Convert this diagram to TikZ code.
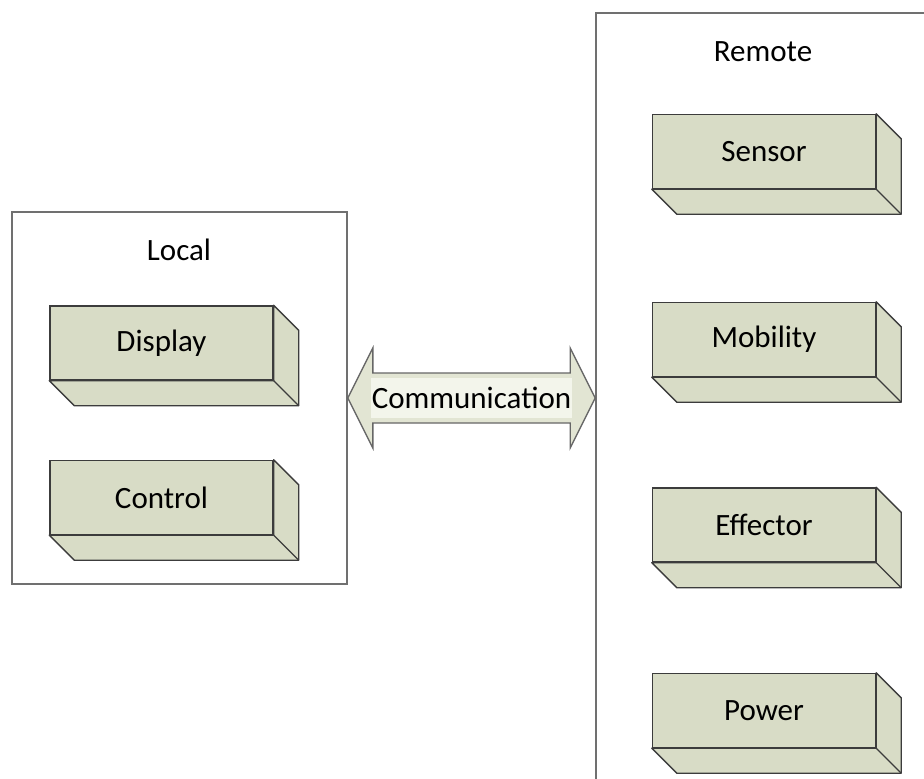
\documentclass[tikz,border=0pt]{standalone}
\usepackage{fontspec}
\setmainfont{Carlito}
\usetikzlibrary{calc}
\definecolor{boxfill}{RGB}{216,220,198}
\definecolor{boxline}{RGB}{60,60,60}
\definecolor{arrowfill}{RGB}{226,229,211}
\definecolor{arrowline}{RGB}{102,102,102}
\definecolor{labelbg}{RGB}{243,245,235}
\definecolor{frameline}{RGB}{112,112,112}
\tikzset{
  container/.style={draw=frameline, line width=1.6pt, fill=white, inner sep=0pt},
  block/.style={draw=boxline, line width=1.4pt, fill=boxfill, minimum width=223pt,
    minimum height=74pt, inner sep=0pt, font=\fontsize{31}{37}\selectfont},
  face/.style={draw=boxline, line width=1.4pt, fill=boxfill, line join=round},
  title/.style={font=\fontsize{31}{37}\selectfont, inner sep=0pt},
  bigarrow/.style={draw=arrowline, line width=1.4pt, fill=arrowfill, line join=miter},
  commlabel/.style={fill=labelbg, inner xsep=1pt, inner ysep=0pt, minimum height=40pt,
    font=\fontsize{31}{37}\selectfont}
}
\begin{document}
\begin{tikzpicture}[x=1pt,y=-1pt]
\useasboundingbox (0,0) rectangle (924,779);
\clip (0,0) rectangle (924,779);
% containers
\node[container, minimum width=335pt, minimum height=372pt] (local) at (179.5,398) {};
\node[container, minimum width=360pt, minimum height=800pt] (remote) at (776,413) {};
\node[title] (localt) at (179,250) {Local};
\node[title] (remotet) at (763,52) {Remote};
% blocks
\node[block] (disp) at (161.5,343) {Display};
\node[block] (ctrl) at (161.5,497.5) {Control};
\node[block] (sens) at (764,151.5) {Sensor};
\node[block] (mob) at (764,339.5) {Mobility};
\node[block] (eff) at (764,525) {Effector};
\node[block] (pow) at (764,710.5) {Power};
\foreach \n in {disp,ctrl,sens,mob,eff,pow}{
  \draw[face] (\n.south west) -- ([shift={(25,25)}]\n.south west)
    -- ([shift={(25,25)}]\n.south east) -- ([shift={(25,25)}]\n.north east)
    -- (\n.north east) -- (\n.south east) -- cycle;
  \draw[face] (\n.south east) -- ([shift={(25,25)}]\n.south east);
}
% communication arrow
\coordinate (lt) at (local.east);
\coordinate (rt) at (remote.west |- local.east);
\draw[bigarrow] (lt) -- ($(lt)+(25,-50)$) -- ($(lt)+(25,-25)$)
  -- ($(rt)+(-25,-25)$) -- ($(rt)+(-25,-50)$) -- (rt)
  -- ($(rt)+(-25,50)$) -- ($(rt)+(-25,25)$)
  -- ($(lt)+(25,25)$) -- ($(lt)+(25,50)$) -- cycle;
\node[commlabel] (comm) at ($(lt)!0.5!(rt)$) {Communication};
\end{tikzpicture}
\end{document}
